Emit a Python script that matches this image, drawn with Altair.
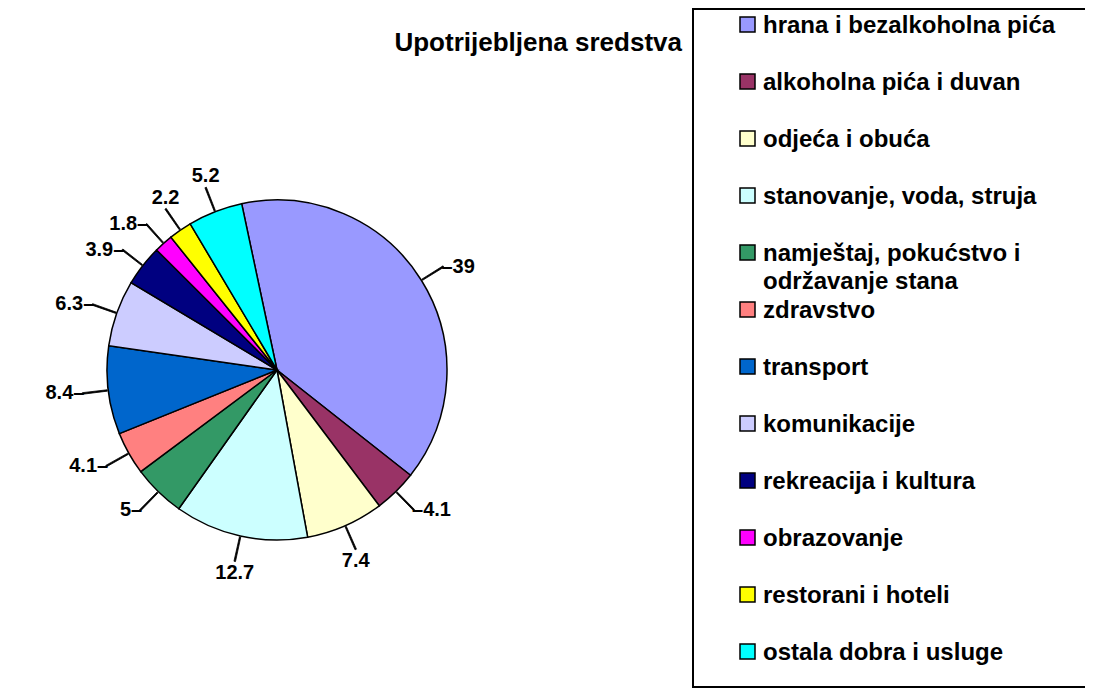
import altair as alt
import pandas as pd
import math

categories = [
    "hrana i bezalkoholna pića",
    "alkoholna pića i duvan",
    "odjeća i obuća",
    "stanovanje, voda, struja",
    "namještaj, pokućstvo i\nodržavanje stana",
    "zdravstvo",
    "transport",
    "komunikacije",
    "rekreacija i kultura",
    "obrazovanje",
    "restorani i hoteli",
    "ostala dobra i usluge",
]
values = [39, 4.1, 7.4, 12.7, 5, 4.1, 8.4, 6.3, 3.9, 1.8, 2.2, 5.2]
labels = ["39", "4.1", "7.4", "12.7", "5", "4.1", "8.4", "6.3", "3.9", "1.8", "2.2", "5.2"]
colors = ["#9999FF", "#993366", "#FFFFCC", "#CCFFFF", "#339966", "#FF8080",
          "#0066CC", "#CCCCFF", "#000080", "#FF00FF", "#FFFF00", "#00FFFF"]
title_text = "Upotrijebljena sredstva"

df = pd.DataFrame({
    "idx": list(range(len(categories))),
    "cat": categories,
    "value": values,
    "lab": labels,
})

START = -12 * math.pi / 180
FONT = "Liberation Sans"
CX, CY = 269, 362
R = 170
LEAD = 26

color_scale = alt.Scale(domain=categories, range=colors)

base = alt.Chart(df).transform_joinaggregate(
    total="sum(value)"
).transform_window(
    cum="sum(value)", sort=[alt.SortField("idx")], frame=[None, 0]
).transform_calculate(
    t2=f"{START} + 2*PI*datum.cum/datum.total",
    t1=f"{START} + 2*PI*(datum.cum - datum.value)/datum.total",
).transform_calculate(
    mid="(datum.t1 + datum.t2)/2"
).transform_calculate(
    la="datum.mid - 0.004", lb="datum.mid + 0.004",
    side="cos(datum.mid) > 0.8 ? 't' : (cos(datum.mid) < -0.8 ? 'b' : (sin(datum.mid) >= 0 ? 'r' : 'l'))",
    rtxt="'\u2013' + datum.lab", ltxt="datum.lab + '\u2013'",
)

pie = base.mark_arc(stroke="black", strokeWidth=1.5, radius=R).encode(
    theta=alt.Theta("t1:Q", scale=None),
    theta2=alt.Theta2("t2:Q"),
    color=alt.Color("cat:N", scale=color_scale, legend=None),
    x=alt.value(CX), y=alt.value(CY),
)

leaders = base.mark_arc(stroke="black", strokeWidth=0.8, fill="black",
                        radius=R + LEAD, radius2=R + 1).encode(
    theta=alt.Theta("la:Q", scale=None),
    theta2=alt.Theta2("lb:Q"),
    x=alt.value(CX), y=alt.value(CY),
)

def lab_layer(side, field, align, baseline, dx=0, dy=0):
    return base.transform_filter(f"datum.side == '{side}'").mark_text(
        font=FONT, fontSize=20, fontWeight="bold", color="black",
        radius=R + LEAD, align=align, baseline=baseline, dx=dx, dy=dy
    ).encode(
        theta=alt.Theta("mid:Q", scale=None),
        text=f"{field}:N",
        x=alt.value(CX), y=alt.value(CY),
    )

lab_r = lab_layer("r", "rtxt", "left", "middle", dx=-2)
lab_l = lab_layer("l", "ltxt", "right", "middle", dx=2)
lab_t = lab_layer("t", "lab", "center", "bottom", dy=-1)
lab_b = lab_layer("b", "lab", "center", "top", dy=2)

box = alt.Chart(pd.DataFrame({"a": [0]})).mark_rect(
    fill="white", stroke="black", strokeWidth=2
).encode(
    x=alt.value(685), x2=alt.value(1300),
    y=alt.value(1), y2=alt.value(679),
)

yscale = alt.Scale(type="point", domain=categories, range=[16.5, 643.5], padding=0)

leg_sym = alt.Chart(df).mark_square(size=225, stroke="black", strokeWidth=1.5,
                                    opacity=1).encode(
    x=alt.value(739.5),
    y=alt.Y("cat:N", scale=yscale, axis=None, sort=categories),
    color=alt.Color("cat:N", scale=color_scale, legend=None),
)

leg_txt = alt.Chart(df).mark_text(font=FONT, fontSize=24, fontWeight="bold",
                                  align="left", baseline="alphabetic", dy=8,
                                  lineBreak="\n", lineHeight=28,
                                  color="black").encode(
    x=alt.value(755),
    y=alt.Y("cat:N", scale=yscale, axis=None, sort=categories),
    text="cat:N",
)

title = alt.Chart(pd.DataFrame({"t": [title_text]})).mark_text(
    font=FONT, fontSize=26, fontWeight="bold", align="right",
    baseline="alphabetic", color="black"
).encode(
    x=alt.value(674), y=alt.value(43), text="t:N"
)

chart = alt.layer(box, pie, leaders, lab_r, lab_l, lab_t, lab_b,
                  leg_sym, leg_txt, title).properties(
    width=1077, height=680, padding=0, autosize="none"
).configure_view(stroke=None)

chart.save("out.html", embed_options={"renderer": "svg", "actions": False})
